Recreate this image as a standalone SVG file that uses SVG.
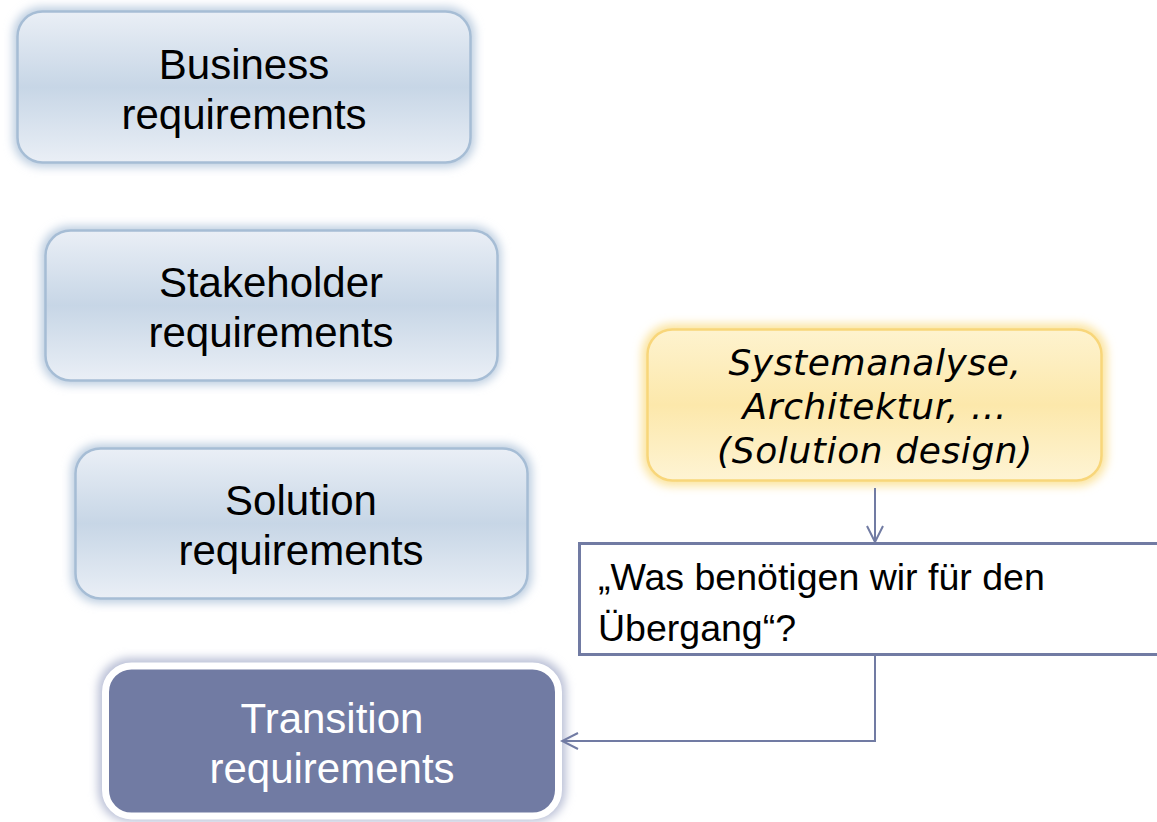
<svg xmlns="http://www.w3.org/2000/svg" width="1157" height="822" viewBox="0 0 1157 822">
<defs>
<linearGradient id="gBlue" x1="0" y1="0" x2="0" y2="1">
<stop offset="0" stop-color="#eaeff6"/>
<stop offset="0.5" stop-color="#c7d6e6"/>
<stop offset="1" stop-color="#eaeff6"/>
</linearGradient>
<linearGradient id="gYellow" x1="0" y1="0" x2="0" y2="1">
<stop offset="0" stop-color="#fef3cf"/>
<stop offset="0.5" stop-color="#fce8ab"/>
<stop offset="1" stop-color="#fef4d4"/>
</linearGradient>
<filter id="glow" x="-10%" y="-20%" width="120%" height="140%">
<feGaussianBlur stdDeviation="5"/>
</filter>
<marker id="arr" viewBox="0 0 20 20" refX="18" refY="10" markerWidth="20" markerHeight="20" markerUnits="userSpaceOnUse" orient="auto">
<path d="M2,2 L18,10 L2,18" fill="none" stroke="#717ba3" stroke-width="2"/>
</marker>
</defs>
<style>
.blue{fill:url(#gBlue);stroke:#a6bdd5;stroke-width:2.5}
.glowB{fill:#bccde0;filter:url(#glow)}
.lbl{font-family:"Liberation Sans",Arial,sans-serif;font-size:42px;fill:#000;text-anchor:middle}
.ital{font-family:"DejaVu Sans",Verdana,sans-serif;font-style:italic;font-size:36px;letter-spacing:0.6px;fill:#000;text-anchor:middle}
.q{font-family:"Liberation Sans",Arial,sans-serif;font-size:37.5px;fill:#000}
.conn{fill:none;stroke:#717ba3;stroke-width:2}
</style>
<rect width="1157" height="822" fill="#ffffff"/>

<g id="business">
<rect class="glowB" x="13" y="7" width="462" height="160" rx="28"/>
<rect class="blue" x="17.5" y="11.5" width="453" height="151" rx="25"/>
<text class="lbl" x="244" y="79">Business</text>
<text class="lbl" x="244" y="129">requirements</text>
</g>

<g id="stakeholder">
<rect class="glowB" x="41" y="226" width="460" height="159" rx="28"/>
<rect class="blue" x="45.5" y="230.5" width="452" height="150" rx="25"/>
<text class="lbl" x="271" y="297">Stakeholder</text>
<text class="lbl" x="271" y="347">requirements</text>
</g>

<g id="solution">
<rect class="glowB" x="71" y="444" width="461" height="159" rx="28"/>
<rect class="blue" x="75.5" y="448.5" width="452" height="150" rx="25"/>
<text class="lbl" x="301" y="515">Solution</text>
<text class="lbl" x="301" y="565">requirements</text>
</g>

<g id="design">
<rect x="642" y="324" width="465" height="162" rx="30" fill="#fbe39c" filter="url(#glow)"/>
<rect x="647.5" y="329.5" width="454" height="151" rx="25" fill="url(#gYellow)" stroke="#f8d67a" stroke-width="2.5"/>
<text class="ital" x="875" y="375">Systemanalyse,</text>
<text class="ital" x="875" y="419">Architektur, …</text>
<text class="ital" x="875" y="463">(Solution design)</text>
</g>

<g id="question">
<rect x="579.5" y="543.5" width="600" height="111" fill="#ffffff" stroke="#717ba3" stroke-width="3"/>
<text class="q" x="598" y="590">„Was benötigen wir für den</text>
<text class="q" x="598" y="641">Übergang“?</text>
</g>

<g id="transition">
<rect x="98" y="658" width="468" height="164" rx="32" fill="#b9bfd6" filter="url(#glow)"/>
<rect x="105.5" y="666" width="453" height="150" rx="26" fill="#717ba3" stroke="#ffffff" stroke-width="7"/>
<text class="lbl" x="332" y="733" style="fill:#ffffff">Transition</text>
<text class="lbl" x="332" y="783" style="fill:#ffffff">requirements</text>
</g>

<g id="connectors">
<path class="conn" d="M875,488 L875,542" marker-end="url(#arr)"/>
<path class="conn" d="M875,656 L875,741 L562,741" marker-end="url(#arr)"/>
</g>
</svg>
